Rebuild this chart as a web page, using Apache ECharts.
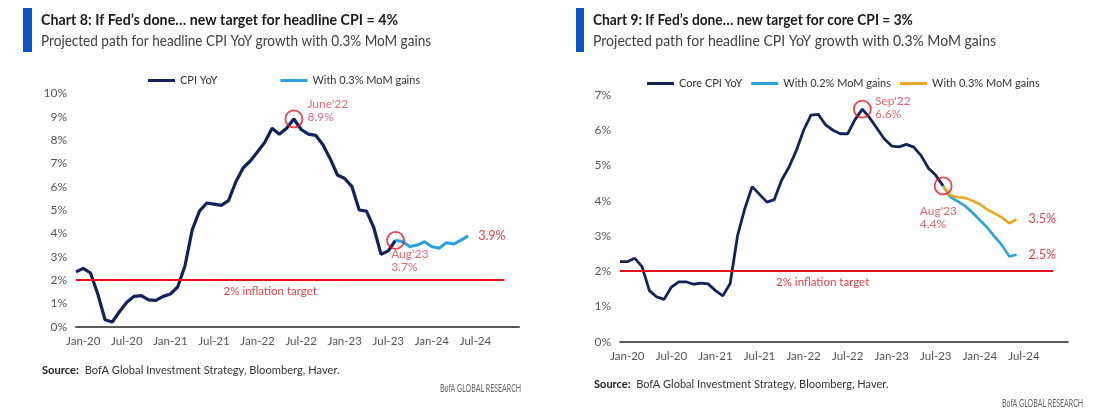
<!DOCTYPE html>
<html>
<head>
<meta charset="utf-8">
<script src="https://cdn.jsdelivr.net/npm/echarts/dist/echarts.min.js"></script>
<style>
  html, body { margin: 0; padding: 0; background: #fff; }
  #main { width: 1100px; height: 411px; }
</style>
</head>
<body>
<div id="main"></div>
<script>
// months on both x axes (Dec-19 .. Jan-25)
var months = ['Dec-19',
  'Jan-20','Feb-20','Mar-20','Apr-20','May-20','Jun-20','Jul-20','Aug-20','Sep-20','Oct-20','Nov-20','Dec-20',
  'Jan-21','Feb-21','Mar-21','Apr-21','May-21','Jun-21','Jul-21','Aug-21','Sep-21','Oct-21','Nov-21','Dec-21',
  'Jan-22','Feb-22','Mar-22','Apr-22','May-22','Jun-22','Jul-22','Aug-22','Sep-22','Oct-22','Nov-22','Dec-22',
  'Jan-23','Feb-23','Mar-23','Apr-23','May-23','Jun-23','Jul-23','Aug-23','Sep-23','Oct-23','Nov-23','Dec-23',
  'Jan-24','Feb-24','Mar-24','Apr-24','May-24','Jun-24','Jul-24','Aug-24','Sep-24','Oct-24','Nov-24','Dec-24',
  'Jan-25'];

// chart 8 - headline CPI YoY (%), from Dec-19
var cpiYoY = [2.35,
  2.5, 2.3, 1.4, 0.3, 0.2, 0.65, 1.05, 1.3, 1.33, 1.15, 1.13, 1.3,
  1.4, 1.7, 2.6, 4.15, 4.95, 5.3, 5.25, 5.2, 5.4, 6.2, 6.8, 7.1,
  7.5, 7.9, 8.5, 8.25, 8.5, 8.9, 8.45, 8.25, 8.2, 7.8, 7.2, 6.5,
  6.35, 6.0, 5.0, 4.95, 4.25, 3.1, 3.25, 3.7];
// projection with 0.3% MoM, from Aug-23
var cpiProj03 = [3.7, 3.64, 3.43, 3.5, 3.64, 3.43, 3.36, 3.6, 3.54, 3.71, 3.89];

// chart 9 - core CPI YoY (%), from Dec-19
var coreYoY = [2.27,
  2.27, 2.37, 2.13, 1.45, 1.27, 1.2, 1.55, 1.7, 1.7, 1.63, 1.66, 1.64,
  1.45, 1.3, 1.65, 3.0, 3.78, 4.4, 4.18, 3.96, 4.03, 4.58, 4.95, 5.42,
  6.0, 6.43, 6.45, 6.15, 6.0, 5.9, 5.9, 6.3, 6.6, 6.35, 6.05, 5.75,
  5.55, 5.53, 5.6, 5.52, 5.28, 4.92, 4.72, 4.42];
// projections from Aug-23
var coreProj02 = [4.42, 4.1, 3.98, 3.85, 3.66, 3.45, 3.24, 2.98, 2.74, 2.42, 2.47];
var coreProj03 = [4.42, 4.15, 4.1, 4.08, 4.0, 3.9, 3.75, 3.64, 3.52, 3.36, 3.48];

var histStart = 'Dec-19';
var projStart = 'Aug-23';
var targetRate = 2;
var targetSpan = ['Dec-19', 'Nov-24'];

// circled points
var cpiNotes = [{ name: "June'22", at: 'Jun-22', value: 8.9 }, { name: "Aug'23", at: 'Aug-23', value: 3.7 }];
var coreNotes = [{ name: "Sep'22", at: 'Sep-22', value: 6.6 }, { name: "Aug'23", at: 'Aug-23', value: 4.42 }];

var NAVY = '#13215c', BLUE = '#2aa0dc', ORANGE = '#e9a823', RED = '#e5141c', RED_TXT = '#e0414a', GREY = '#555';
var FONT = 'Lato, sans-serif';

function pad(arr, start) {
  var i = months.indexOf(start);
  return months.map(function (m, k) { return (k >= i && k < i + arr.length) ? arr[k - i] : '-'; });
}

function xAxis(gi) {
  return {
    type: 'category', gridIndex: gi, data: months, boundaryGap: false,
    axisLine: { lineStyle: { color: '#5a5a5a', width: 2 } },
    axisTick: { show: false },
    axisLabel: {
      interval: function (i, v) { return /^(Jan|Jul)/.test(v) && i < months.length - 1; },
      color: GREY, fontSize: 11.5, fontFamily: FONT, margin: 9
    },
    splitLine: { show: false }
  };
}
function yAxis(gi, max) {
  return {
    type: 'value', gridIndex: gi, min: 0, max: max, interval: 1,
    axisLabel: { formatter: '{value}%', color: GREY, fontSize: 12, fontFamily: FONT, margin: 9 },
    axisLine: { show: false }, axisTick: { show: false }, splitLine: { show: false }
  };
}
function target(padRight) {
  return {
    silent: true, symbol: 'none',
    lineStyle: { color: RED, width: 2, type: 'solid' },
    label: {
      show: true, position: 'insideMiddleBottom', formatter: targetRate + '% inflation target',
      color: RED_TXT, fontSize: 11.5, fontFamily: FONT, padding: [0, padRight, 0, 0]
    },
    data: [[{ coord: [targetSpan[0], targetRate] }, { coord: [targetSpan[1], targetRate] }]]
  };
}
function endLabel(dist) {
  return {
    show: true, distance: dist, color: RED_TXT, fontSize: 12.5, fontFamily: FONT,
    formatter: function (p) { var v = Array.isArray(p.value) ? p.value[1] : p.value; return v.toFixed(1) + '%'; }
  };
}
function notes(gi, list, positions) {
  return {
    type: 'scatter', xAxisIndex: gi, yAxisIndex: gi, silent: true, z: 6,
    symbol: 'circle', symbolSize: 17,
    itemStyle: { color: 'rgba(0,0,0,0)', borderColor: RED, borderWidth: 1.8 },
    label: { show: true, color: RED_TXT, fontSize: 12, lineHeight: 13, fontFamily: FONT },
    data: list.map(function (n, i) {
      return {
        value: [n.at, n.value],
        label: { position: positions[i], formatter: n.name + '\n' + n.value.toFixed(1) + '%' }
      };
    })
  };
}
function text(x, y, str, font, fill, sx, rich) {
  return {
    type: 'text', x: x, y: y, scaleX: sx,
    style: { text: str, font: font, fill: fill, align: 'left', verticalAlign: 'top', rich: rich }
  };
}

var richSrc = { b: { fontWeight: 'bold', fontSize: 12, fontFamily: FONT, fill: '#222' } };

var chart = echarts.init(document.getElementById('main'));
var option = {
  animation: false,
  backgroundColor: '#fff',
  grid: [
    { left: 76, right: 581, top: 93.3, bottom: 84.3, outerBoundsMode: 'none' },
    { left: 620, right: 32, top: 95, bottom: 69.3, outerBoundsMode: 'none' }
  ],
  xAxis: [xAxis(0), xAxis(1)],
  yAxis: [yAxis(0, 10), yAxis(1, 7)],
  legend: [
    {
      left: 148, top: 75, padding: 0, icon: 'rect', itemWidth: 27, itemHeight: 3, itemGap: 63,
      textStyle: { color: '#333', fontSize: 11, fontFamily: FONT },
      data: [{ name: 'CPI YoY' }, { name: 'With 0.3% MoM gains', itemStyle: { color: BLUE } }]
    },
    {
      left: 647, top: 78, padding: 0, icon: 'rect', itemWidth: 27, itemHeight: 3, itemGap: 9,
      textStyle: { color: '#333', fontSize: 11, fontFamily: FONT },
      data: [{ name: 'Core CPI YoY' }, { name: 'With 0.2% MoM gains' },
        { name: 'With 0.3% MoM gains', itemStyle: { color: ORANGE } }]
    }
  ],
  series: [
    {
      name: 'CPI YoY', type: 'line', xAxisIndex: 0, yAxisIndex: 0, data: pad(cpiYoY, histStart),
      symbol: 'none', lineStyle: { color: NAVY, width: 3.2 }, itemStyle: { color: NAVY }, z: 3,
      markLine: target(40)
    },
    {
      name: 'With 0.3% MoM gains', type: 'line', xAxisIndex: 0, yAxisIndex: 0, data: pad(cpiProj03, projStart),
      symbol: 'none', lineStyle: { color: BLUE, width: 3 }, itemStyle: { color: BLUE }, z: 4,
      endLabel: endLabel(10)
    },
    notes(0, cpiNotes, [[23, -12], [5, 17]]),
    {
      name: 'Core CPI YoY', type: 'line', xAxisIndex: 1, yAxisIndex: 1, data: pad(coreYoY, histStart),
      symbol: 'none', lineStyle: { color: NAVY, width: 2.8 }, itemStyle: { color: NAVY }, z: 3,
      markLine: target(28)
    },
    {
      name: 'With 0.2% MoM gains', type: 'line', xAxisIndex: 1, yAxisIndex: 1, data: pad(coreProj02, projStart),
      symbol: 'none', lineStyle: { color: BLUE, width: 2.6 }, itemStyle: { color: BLUE }, z: 4,
      endLabel: endLabel(12)
    },
    {
      name: 'With 0.3% MoM gains', type: 'line', xAxisIndex: 1, yAxisIndex: 1, data: pad(coreProj03, projStart),
      symbol: 'none', lineStyle: { color: ORANGE, width: 2.6 }, itemStyle: { color: ORANGE }, z: 4,
      endLabel: endLabel(12)
    },
    notes(1, coreNotes, [[22, -5], [-14, 28]])
  ],
  graphic: [
    { type: 'rect', left: 23, top: 8, shape: { width: 9, height: 44 }, style: { fill: '#0b52c7' } },
    text(41, 12, 'Chart 8: If Fed\u2019s done\u2026 new target for headline CPI = 4%', 'bold 16px ' + FONT, '#1a1a1a', 0.89),
    text(41, 34, 'Projected path for headline CPI YoY growth with 0.3% MoM gains', '15px ' + FONT, '#404040', 0.905),
    { type: 'rect', left: 576, top: 8, shape: { width: 8, height: 44 }, style: { fill: '#0b52c7' } },
    text(593, 12, 'Chart 9: If Fed\u2019s done\u2026 new target for core CPI = 3%', 'bold 16px ' + FONT, '#1a1a1a', 0.86),
    text(593, 34, 'Projected path for headline CPI YoY growth with 0.3% MoM gains', '15px ' + FONT, '#404040', 0.935),
    text(42, 364, '{b|Source:}  BofA Global Investment Strategy, Bloomberg, Haver.', '12px ' + FONT, '#333', 0.93, richSrc),
    text(440, 382, 'BofA GLOBAL RESEARCH', '11.5px ' + FONT, '#666', 0.61),
    text(594, 378, '{b|Source:}  BofA Global Investment Strategy, Bloomberg, Haver.', '12px ' + FONT, '#333', 0.92, richSrc),
    text(1002, 397, 'BofA GLOBAL RESEARCH', '11.5px ' + FONT, '#666', 0.61)
  ]
};
chart.setOption(option);
</script>
</body>
</html>
